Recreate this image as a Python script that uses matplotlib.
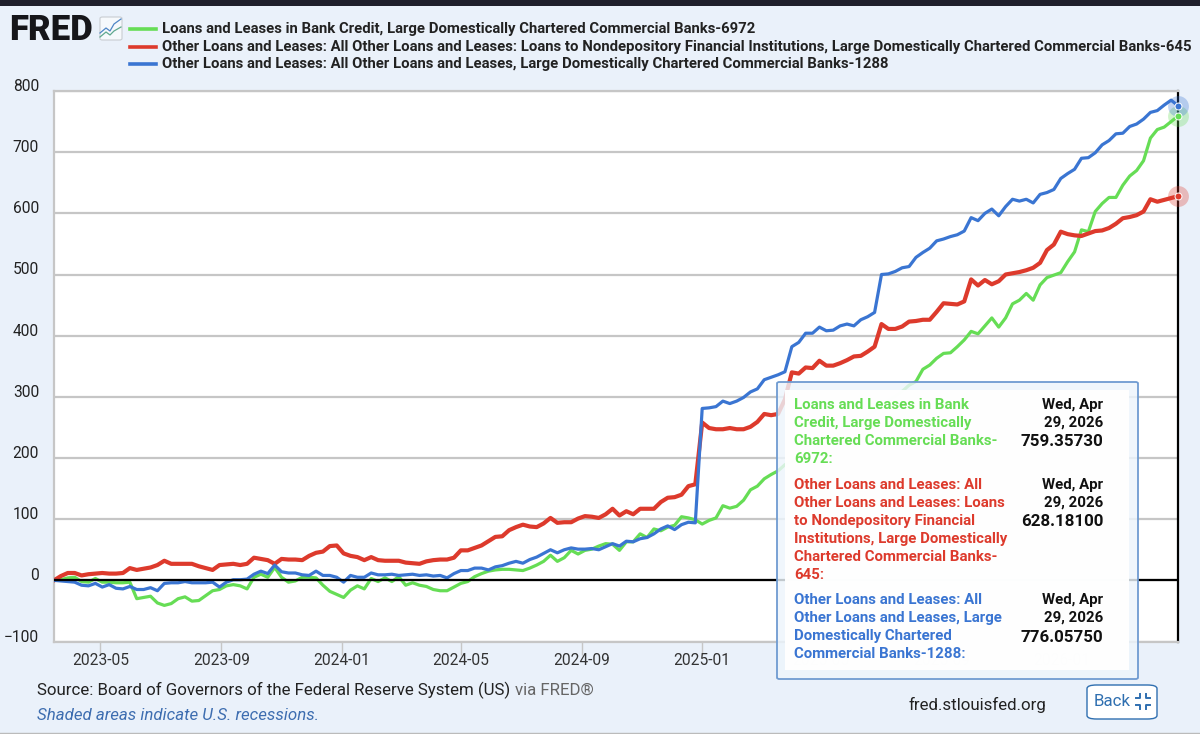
import matplotlib
matplotlib.use("Agg")
import matplotlib.pyplot as plt
import pandas as pd
from matplotlib.lines import Line2D
from matplotlib.patches import FancyBboxPatch, Rectangle

plt.rcParams["font.family"] = ["Roboto", "DejaVu Sans"]

# weekly values, index changes since 2023-03-15
green = [0, 1, 4, 5, -2, -3, 3, -3, -3, -4,
         -4, -3, -30, -28, -26, -37, -41, -38, -30, -27,
         -34, -33, -25, -17, -15, -9, -7, -9, -14, 5,
         10, 5, 21, 5, -3, -1, 5, 5, 4, -8,
         -18, -23, -28, -16, -9, -14, 3, -2, 4, -2,
         6, -8, -4, -8, -10, -15, -17, -17, -11, -5,
         -2, 6, 11, 15, 17, 18, 18, 17, 16, 20,
         25, 31, 41, 31, 37, 49, 43, 49, 51, 56,
         60, 59, 49, 63, 63, 76, 70, 84, 81, 87,
         90, 104, 102, 99, 92, 98, 102, 122, 118, 121,
         131, 148, 154, 166, 173, 179, 189, 195, 200, 206,
         214, 220, 226, 232, 240, 246, 252, 262, 270, 278,
         286, 294, 301, 309, 319, 325, 345, 352, 363, 371,
         372, 382, 393, 407, 403, 416, 429, 414, 429, 452,
         458, 469, 458, 483, 495, 499, 503, 521, 537, 573,
         570, 603, 616, 626, 626, 646, 661, 670, 686, 723,
         737, 741, 750, 759]
red = [0, 7, 12, 12, 8, 10, 11, 12, 11, 11,
       12, 20, 17, 19, 21, 25, 32, 27, 27, 27,
       27, 23, 20, 17, 25, 26, 27, 25, 27, 37,
       35, 33, 27, 35, 34, 34, 33, 40, 45, 47,
       56, 57, 44, 40, 38, 33, 38, 33, 32, 32,
       32, 29, 28, 27, 31, 33, 34, 34, 37, 49,
       49, 53, 57, 64, 71, 72, 82, 87, 91, 88,
       87, 93, 102, 94, 95, 95, 101, 105, 104, 102,
       108, 117, 106, 113, 108, 117, 117, 117, 128, 135,
       136, 140, 154, 157, 258, 249, 247, 247, 249, 247,
       247, 251, 259, 272, 270, 272, 296, 340, 338, 348,
       347, 359, 351, 351, 355, 360, 366, 367, 374, 382,
       419, 411, 411, 415, 423, 424, 426, 426, 439, 453,
       452, 451, 456, 492, 482, 491, 484, 489, 500, 502,
       504, 507, 511, 519, 540, 549, 570, 566, 564, 563,
       567, 571, 572, 576, 583, 592, 594, 597, 603, 623,
       619, 622, 625, 628]
blue = [0, -1, -2, -3, -8, -9, -5, -11, -7, -13,
        -14, -10, -15, -15, -12, -17, -5, -4, -4, -2,
        -4, -4, -4, -3, -11, -3, 1, 1, 2, 10,
        15, 11, 25, 14, 12, 12, 9, 8, 15, 8,
        8, 5, -3, 8, 5, 5, 12, 9, 9, 10,
        8, 9, 10, 8, 9, 7, 8, 4, 11, 16,
        16, 20, 20, 17, 22, 24, 28, 31, 28, 34,
        38, 44, 50, 45, 50, 53, 51, 51, 52, 50,
        55, 60, 56, 64, 63, 68, 70, 76, 84, 89,
        83, 91, 95, 94, 281, 282, 284, 293, 289, 293,
        299, 308, 313, 328, 332, 336, 341, 382, 389, 404,
        404, 414, 408, 409, 416, 419, 416, 426, 431, 438,
        500, 501, 505, 511, 513, 528, 536, 543, 555, 558,
        562, 565, 571, 593, 588, 600, 607, 596, 611, 623,
        620, 623, 617, 631, 634, 639, 657, 665, 672, 690,
        691, 699, 712, 719, 730, 731, 742, 746, 754, 765,
        768, 777, 785, 776]

yticks = [-100, 0, 100, 200, 300, 400, 500, 600, 700, 800]
xticks = ["2023-05-01", "2023-09-01", "2024-01-01", "2024-05-01", "2024-09-01",
          "2025-01-01", "2025-05-01", "2025-09-01", "2026-01-01"]
xlabels = [t[:7] for t in xticks]

legend_names = [
    "Loans and Leases in Bank Credit, Large Domestically Chartered Commercial Banks-6972",
    "Other Loans and Leases: All Other Loans and Leases: Loans to Nondepository Financial Institutions, Large Domestically Chartered Commercial Banks-645",
    "Other Loans and Leases: All Other Loans and Leases, Large Domestically Chartered Commercial Banks-1288",
]
tip_green = ["Loans and Leases in Bank", "Credit, Large Domestically",
             "Chartered Commercial Banks-", "6972:"]
tip_red = ["Other Loans and Leases: All", "Other Loans and Leases: Loans",
           "to Nondepository Financial", "Institutions, Large Domestically",
           "Chartered Commercial Banks-", "645:"]
tip_blue = ["Other Loans and Leases: All", "Other Loans and Leases, Large",
            "Domestically Chartered", "Commercial Banks-1288:"]
tip_values = ["759.35730", "628.18100", "776.05750"]

GREEN = "#66DD55"
RED = "#DD3A2C"
BLUE = "#3A75D2"
BG = "#EAF1FA"
W, H = 1200, 734
dates = pd.date_range("2023-03-15", periods=len(green), freq="7D")


def fx(x):
    return x / W


def fy(y):
    return 1 - y / H


fig = plt.figure(figsize=(12, 7.34), dpi=100, facecolor=BG)
ax = fig.add_axes([fx(54), fy(641.5), fx(1178) - fx(54), fy(91) - fy(641.5)])
ax.set_facecolor("white")

ax.plot(dates, green, color=GREEN, lw=2.3, solid_joinstyle="round", zorder=3)
ax.plot(dates, red, color=RED, lw=3.0, solid_joinstyle="round", zorder=4)
ax.plot(dates, blue, color=BLUE, lw=2.3, solid_joinstyle="round", zorder=5)
ax.axhline(0, color="black", lw=1.6, zorder=6)

# end of series markers with the pale halo
for vals, col in [(green, GREEN), (red, RED), (blue, BLUE)]:
    ax.plot(dates[-1], vals[-1], "o", ms=15, color=col, alpha=0.3, mew=0, zorder=7, clip_on=False)
for vals, col in [(green, GREEN), (red, RED), (blue, BLUE)]:
    ax.plot(dates[-1], vals[-1], "o", ms=5, color=col, mec="white", mew=0.7, zorder=8, clip_on=False)

ax.set_xlim(dates[0], dates[-1])
ax.set_ylim(-100, 800)
ax.set_yticks(yticks)
ax.set_xticks(pd.to_datetime(xticks))
ax.set_xticklabels(xlabels)
ax.grid(axis="y", color="#C6C6C6", lw=1.6, zorder=1)
ax.set_axisbelow(True)
for s in ["top", "bottom", "left"]:
    ax.spines[s].set_color("#C6C6C6")
    ax.spines[s].set_linewidth(1.6)
ax.spines["right"].set_color("black")
ax.spines["right"].set_linewidth(1.6)
ax.tick_params(axis="y", length=0, pad=10.8, labelsize=11.2, labelcolor="#222222")
ax.tick_params(axis="x", length=9, width=1, color="#C6C6C6", pad=-1, labelsize=11.2, labelcolor="#333333")
for lab in ax.get_yticklabels():
    lab.set_verticalalignment("baseline")

# top bar and bottom rule
fig.add_artist(Rectangle((0, fy(6)), 1, 6 / H, transform=fig.transFigure, color="#1F1F2B", lw=0))
fig.add_artist(Line2D([0, 1], [fy(733), fy(733)], color="#BBBBBB", lw=1))

# logo
fig.text(fx(9), fy(40), "FRED", fontsize=25, fontweight=900, color="#16161A", va="baseline")
fig.add_artist(FancyBboxPatch((fx(100), fy(40)), 22 / W, 23 / H, boxstyle="round,pad=0,rounding_size=0.002",
                              transform=fig.transFigure, fc="#F6F9FC", ec="#C9CDD2", lw=0.8))
fig.add_artist(Line2D([fx(p) for p in (100, 106, 110, 114, 121)], [fy(p) for p in (33, 28, 31, 24, 19)],
                      color="#4F86C6", lw=0.9))
fig.add_artist(Line2D([fx(p) for p in (100, 106, 110, 114, 121)], [fy(p) for p in (37, 32, 35, 31, 27)],
                      color="#5FA88F", lw=0.9))

# legend
for name, col, y in zip(legend_names, [GREEN, RED, BLUE], [29, 46.5, 64]):
    fig.add_artist(Line2D([fx(130), fx(156)], [fy(y), fy(y)], color=col, lw=2.6))
    fig.text(fx(162), fy(y), name, fontsize=10.7, fontweight="bold", color="#222222", va="center")

# tooltip on top of the plot
fig.add_artist(FancyBboxPatch((fx(777), fy(679)), 361 / W, 297 / H, boxstyle="round,pad=0,rounding_size=0.002",
                              transform=fig.transFigure, fc=(0.93, 0.96, 0.99, 0.82), ec="#6F9BD1", lw=1.3, zorder=10))
fig.add_artist(Rectangle((fx(785), fy(670)), 344 / W, 280 / H, transform=fig.transFigure,
                         fc=(1, 1, 1, 0.97), lw=0, zorder=11))

for lines, col, y0, val in [(tip_green, GREEN, 405, tip_values[0]),
                            (tip_red, RED, 485, tip_values[1]),
                            (tip_blue, BLUE, 600, tip_values[2])]:
    for i, line in enumerate(lines):
        fig.text(fx(794), fy(y0 + 18 * i), line, fontsize=10.8, fontweight="bold", color=col, va="center", zorder=12)
    fig.text(fx(1103), fy(y0), "Wed, Apr", fontsize=10.8, fontweight="bold", color="#111111", ha="right", va="center", zorder=12)
    fig.text(fx(1103), fy(y0 + 18), "29, 2026", fontsize=10.8, fontweight="bold", color="#111111", ha="right", va="center", zorder=12)
    fig.text(fx(1103), fy(y0 + 37), val, fontsize=12.2, fontweight="bold", color="#111111", ha="right", va="center", zorder=12)

# footer
src = fig.text(fx(37), fy(690), "Source: Board of Governors of the Federal Reserve System (US)",
               fontsize=12.15, color="#222222", va="center")
fig.canvas.draw()
end = src.get_window_extent().x1
fig.text((end + 5) / W, fy(690), "via FRED®", fontsize=12.15, color="#666666", va="center")
fig.text(fx(37), fy(715), "Shaded areas indicate U.S. recessions.", fontsize=12.15, style="italic",
         color="#3D6DB0", va="center")
fig.text(fx(909), fy(705), "fred.stlouisfed.org", fontsize=12.2, color="#222222", va="center")

fig.add_artist(FancyBboxPatch((fx(1087), fy(719)), 70 / W, 34 / H, boxstyle="round,pad=0,rounding_size=0.008",
                              transform=fig.transFigure, fc="white", ec="#2F6FB0", lw=1.0, mutation_aspect=H / W))
fig.text(fx(1094), fy(701.5), "Back", fontsize=12.2, color="#2F6FB0", va="center")
for xs, ys in [((1136, 1140, 1140), (698, 698, 694)), ((1146, 1146, 1150), (694, 698, 698)),
               ((1136, 1140, 1140), (705, 705, 709)), ((1146, 1146, 1150), (709, 705, 705))]:
    fig.add_artist(Line2D([fx(p) for p in xs], [fy(p) for p in ys], color="#2F6FB0", lw=1.4))

fig.savefig("out.png", dpi=100, facecolor=BG)
